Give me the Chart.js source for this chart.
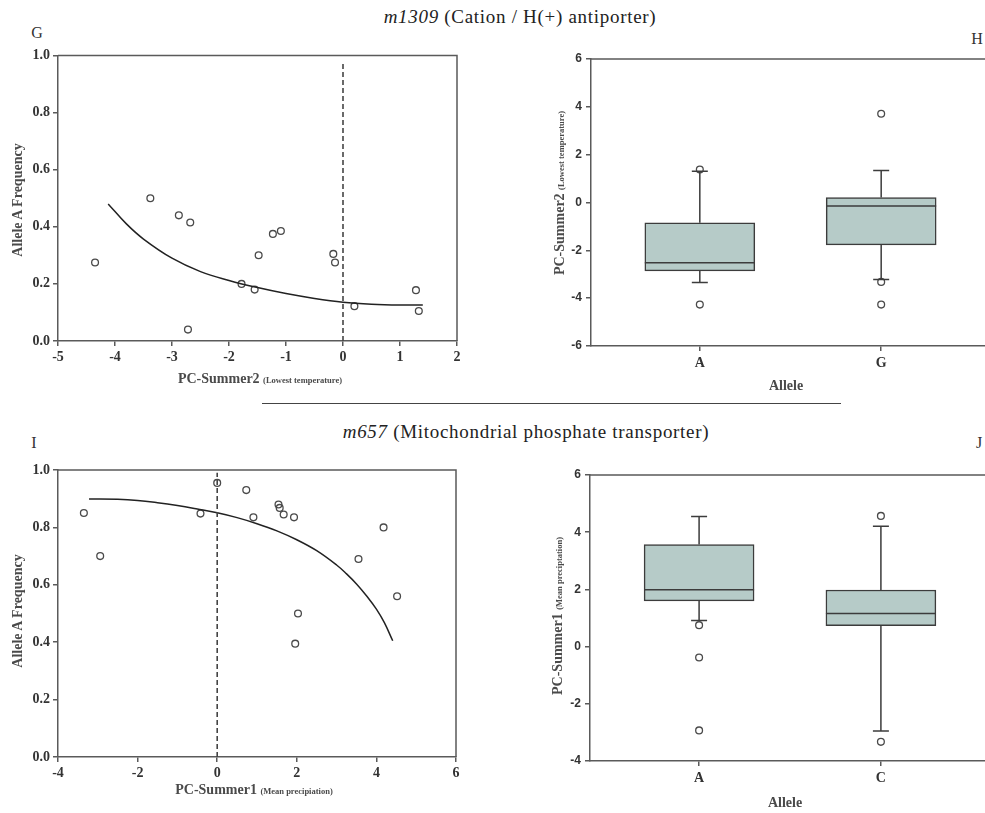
<!DOCTYPE html>
<html>
<head>
<meta charset="utf-8">
<script src="https://cdn.jsdelivr.net/npm/chart.js@4.4.1/dist/chart.umd.min.js"></script>
<style>
  html, body { margin: 0; padding: 0; background: #fff; }
  body { width: 985px; height: 813px; position: relative; overflow: hidden; font-family: 'Liberation Serif', serif; color: #333; }
  .cv { position: absolute; }
  .txt { position: absolute; white-space: nowrap; transform: translate(-50%, -50%); }
  .title { font-size: 19px; letter-spacing: 0.7px; color: #222; }
  .panel { font-size: 16px; color: #333; }
  .axis { font-size: 14px; font-weight: bold; color: #4a4a4a; }
  .axis small { font-size: 8.5px; font-weight: bold; }
  .rot { transform: translate(-50%, -50%) rotate(-90deg); }
  .rule { position: absolute; left: 262px; top: 403px; width: 579px; height: 0; border-top: 1.6px solid #444; }
</style>
</head>
<body>
<div class="txt title" style="left:520px;top:17px"><i>m1309</i> (Cation / H(+) antiporter)</div>
<div class="txt panel" style="left:37px;top:33px">G</div>
<div class="txt panel" style="left:977px;top:39px">H</div>
<div class="rule"></div>
<div class="txt title" style="left:526px;top:432px"><i>m657</i> (Mitochondrial phosphate transporter)</div>
<div class="txt panel" style="left:34px;top:443px">I</div>
<div class="txt panel" style="left:979px;top:443px">J</div>

<canvas id="chartG" class="cv" style="left:0px;top:44px"></canvas>
<canvas id="chartH" class="cv" style="left:500px;top:44px"></canvas>
<canvas id="chartI" class="cv" style="left:0px;top:455px"></canvas>
<canvas id="chartJ" class="cv" style="left:500px;top:455px"></canvas>

<div class="txt axis rot" style="left:18px;top:200px">Allele A Frequency</div>
<div class="txt axis" style="left:260px;top:379px">PC-Summer2 <small>(Lowest temperature)</small></div>
<div class="txt axis rot" style="left:560px;top:193px">PC-Summer2 <small>(Lowest temperature)</small></div>
<div class="txt axis" style="left:786px;top:386px">Allele</div>

<div class="txt axis rot" style="left:18px;top:611px">Allele A Frequency</div>
<div class="txt axis" style="left:254px;top:790px">PC-Summer1 <small>(Mean precipiation)</small></div>
<div class="txt axis rot" style="left:558px;top:616px">PC-Summer1 <small>(Mean preciptation)</small></div>
<div class="txt axis" style="left:785px;top:803px">Allele</div>

<script>
// m1309: allele A frequency per population vs PC-Summer2
const gPcSummer2 = [-4.35, -3.38, -2.88, -2.68, -2.72, -1.78, -1.55, -1.48, -1.23, -1.09, -0.17, -0.14, 0.2, 1.28, 1.33];
const gFreqA = [0.275, 0.50, 0.44, 0.415, 0.04, 0.20, 0.18, 0.30, 0.375, 0.385, 0.305, 0.275, 0.122, 0.178, 0.105];
// fitted curve
const gFitX = [-4.12, -3.8, -3.5, -3.0, -2.5, -2.0, -1.5, -1.0, -0.5, 0, 0.5, 1.0, 1.4];
const gFitY = [0.48, 0.41, 0.357, 0.29, 0.243, 0.212, 0.187, 0.166, 0.149, 0.136, 0.129, 0.126, 0.126];
const gRefTop = 0.97;

// m1309: PC-Summer2 by allele
const hAlleles = ['A', 'G'];
const hQ1 = [-2.86, -1.77];
const hMedian = [-2.52, -0.15];
const hQ3 = [-0.85, 0.21];
const hLow = [-3.35, -3.22];
const hHigh = [1.31, 1.34];
const hOutliers = [[1.38, -4.27], [3.71, -3.32, -4.27]];

// m657: allele A frequency per population vs PC-Summer1
const iPcSummer1 = [-3.35, -2.94, -0.42, 0, 0.73, 0.91, 1.54, 1.57, 1.67, 1.93, 2.03, 1.96, 3.55, 4.18, 4.52];
const iFreqA = [0.85, 0.70, 0.848, 0.955, 0.93, 0.835, 0.88, 0.868, 0.845, 0.835, 0.50, 0.395, 0.69, 0.80, 0.56];
const iFitX = [-3.22, -2.5, -2.0, -1.5, -1.0, -0.5, 0, 0.5, 1.0, 1.5, 2.0, 2.5, 3.0, 3.25, 3.5, 3.75, 4.0, 4.2, 4.41];
const iFitY = [0.899, 0.898, 0.894, 0.886, 0.876, 0.864, 0.851, 0.834, 0.813, 0.788, 0.757, 0.719, 0.669, 0.638, 0.603, 0.562, 0.515, 0.468, 0.405];
const iRefTop = 0.99;

// m657: PC-Summer1 by allele
const jAlleles = ['A', 'C'];
const jQ1 = [1.6, 0.73];
const jMedian = [1.99, 1.16];
const jQ3 = [3.57, 1.98];
const jLow = [0.91, -2.95];
const jHigh = [4.55, 4.21];
const jOutliers = [[0.75, -0.38, -2.93], [4.57, -3.33]];

const ink = '#3c3c3c';
const frameColor = '#5a5a5a';

// closes the plot box on the top and right
const frame = {
  id: 'frame',
  beforeDatasetsDraw(chart) {
    const { ctx, chartArea: a } = chart;
    ctx.save();
    ctx.strokeStyle = frameColor;
    ctx.lineWidth = 1.5;
    ctx.beginPath();
    ctx.moveTo(a.left, a.top);
    ctx.lineTo(a.right, a.top);
    ctx.lineTo(a.right, a.bottom);
    ctx.stroke();
    ctx.restore();
  },
};

// whiskers, caps and median lines on top of the box bars
const boxParts = {
  id: 'boxParts',
  afterDatasetsDraw(chart, args, opts) {
    const { ctx, scales: { x, y } } = chart;
    const bars = chart.getDatasetMeta(0).data;
    ctx.save();
    ctx.strokeStyle = ink;
    ctx.lineWidth = 1.5;
    opts.median.forEach((m, i) => {
      const cx = x.getPixelForValue(i);
      const half = bars[i].width / 2;
      const cap = 8;
      ctx.beginPath();
      ctx.moveTo(cx - half, y.getPixelForValue(m));
      ctx.lineTo(cx + half, y.getPixelForValue(m));
      // upper whisker
      ctx.moveTo(cx, y.getPixelForValue(opts.q3[i]));
      ctx.lineTo(cx, y.getPixelForValue(opts.high[i]));
      ctx.moveTo(cx - cap, y.getPixelForValue(opts.high[i]));
      ctx.lineTo(cx + cap, y.getPixelForValue(opts.high[i]));
      // lower whisker
      ctx.moveTo(cx, y.getPixelForValue(opts.q1[i]));
      ctx.lineTo(cx, y.getPixelForValue(opts.low[i]));
      ctx.moveTo(cx - cap, y.getPixelForValue(opts.low[i]));
      ctx.lineTo(cx + cap, y.getPixelForValue(opts.low[i]));
      ctx.stroke();
    });
    ctx.restore();
  },
};

const serifTick = { family: "'Liberation Serif', serif", size: 14, weight: 'bold' };
const sansTick = { family: "'Liberation Sans', sans-serif", size: 12, weight: 'bold' };

const fixSize = (w, h) => (scale) => {
  if (w != null) scale.width = w;
  if (h != null) scale.height = h;
};

const axisStyle = (font, pad) => ({
  offset: false,
  grid: { offset: false, drawOnChartArea: false, drawTicks: true, tickLength: 5, color: frameColor, lineWidth: 1.5 },
  border: { display: true, color: frameColor, width: 1.5 },
  ticks: { font: font, color: '#333', padding: pad },
});

const makeScatter = function (id, xs, ys, fitX, fitY, refTop, xRange, padding, yWidth, xHeight) {
  const canvas = document.getElementById(id);
  canvas.width = 470;
  canvas.height = 345;
  const xAxis = axisStyle(serifTick, 3);
  const yAxis = axisStyle(serifTick, 3);
  return new Chart(canvas, {
    type: 'scatter',
    data: {
      datasets: [
        {
          data: [{ x: 0, y: 0 }, { x: 0, y: refTop }],
          showLine: true,
          borderColor: '#444',
          borderWidth: 1.6,
          borderDash: [5, 3],
          pointRadius: 0,
        },
        {
          data: fitX.map((x, i) => ({ x: x, y: fitY[i] })),
          showLine: true,
          borderColor: '#222',
          borderWidth: 1.5,
          tension: 0.4,
          pointRadius: 0,
        },
        {
          data: xs.map((x, i) => ({ x: x, y: ys[i] })),
          pointRadius: 3.4,
          pointBorderWidth: 1.3,
          pointBorderColor: '#4a4a4a',
          pointBackgroundColor: 'rgba(255,255,255,0)',
        },
      ],
    },
    options: {
      responsive: false,
      animation: false,
      layout: { padding: padding },
      plugins: { legend: { display: false }, tooltip: { enabled: false } },
      scales: {
        x: {
          ...xAxis,
          type: 'linear',
          min: xRange[0],
          max: xRange[1],
          ticks: { ...xAxis.ticks, stepSize: xRange[2] },
          afterFit: fixSize(null, xHeight),
        },
        y: {
          ...yAxis,
          min: 0,
          max: 1,
          ticks: { ...yAxis.ticks, stepSize: 0.2, callback: (v) => v.toFixed(1) },
          afterFit: fixSize(yWidth, null),
        },
      },
    },
    plugins: [frame],
  });
};

const makeBox = function (id, alleles, q1, median, q3, low, high, outliers, yRange, padding, yWidth, xHeight) {
  const canvas = document.getElementById(id);
  canvas.width = 500;
  canvas.height = 345;
  const xAxis = axisStyle(serifTick, 4);
  const yAxis = axisStyle(sansTick, 4);
  const dots = [];
  outliers.forEach((list, i) => list.forEach((v) => dots.push({ x: i, y: v })));
  return new Chart(canvas, {
    type: 'bar',
    data: {
      datasets: [
        {
          data: alleles.map((a, i) => ({ x: i, y: [q1[i], q3[i]] })),
          backgroundColor: '#b6cbc8',
          borderColor: ink,
          borderWidth: 1.5,
          borderSkipped: false,
          barThickness: 110,
        },
        {
          type: 'scatter',
          data: dots,
          pointRadius: 3.4,
          pointBorderWidth: 1.3,
          pointBorderColor: '#4a4a4a',
          pointBackgroundColor: 'rgba(255,255,255,0)',
        },
      ],
    },
    options: {
      responsive: false,
      animation: false,
      layout: { padding: padding },
      plugins: {
        legend: { display: false },
        tooltip: { enabled: false },
        boxParts: { q1: q1, median: median, q3: q3, low: low, high: high },
      },
      scales: {
        x: {
          ...xAxis,
          type: 'linear',
          min: -0.6,
          max: 1.6,
          afterBuildTicks: (scale) => {
            scale.ticks = alleles.map((a, i) => ({ value: i }));
          },
          ticks: { ...xAxis.ticks, callback: (v) => alleles[v] },
          afterFit: fixSize(null, xHeight),
        },
        y: {
          ...yAxis,
          min: yRange[0],
          max: yRange[1],
          ticks: { ...yAxis.ticks, stepSize: 2 },
          afterFit: fixSize(yWidth, null),
        },
      },
    },
    plugins: [frame, boxParts],
  });
};

makeScatter('chartG', gPcSummer2, gFreqA, gFitX, gFitY, gRefTop, [-5, 2, 1], { top: 10, right: 13, left: 0, bottom: 0 }, 58, 48);
makeBox('chartH', hAlleles, hQ1, hMedian, hQ3, hLow, hHigh, hOutliers, [-6, 6], { top: 15, right: 10, left: 0, bottom: 0 }, 91, 43);
makeScatter('chartI', iPcSummer1, iFreqA, iFitX, iFitY, iRefTop, [-4, 6, 2], { top: 15, right: 14, left: 0, bottom: 0 }, 58, 43);
makeBox('chartJ', jAlleles, jQ1, jMedian, jQ3, jLow, jHigh, jOutliers, [-4, 6], { top: 20, right: 10, left: 0, bottom: 0 }, 90, 39);
</script>
</body>
</html>
